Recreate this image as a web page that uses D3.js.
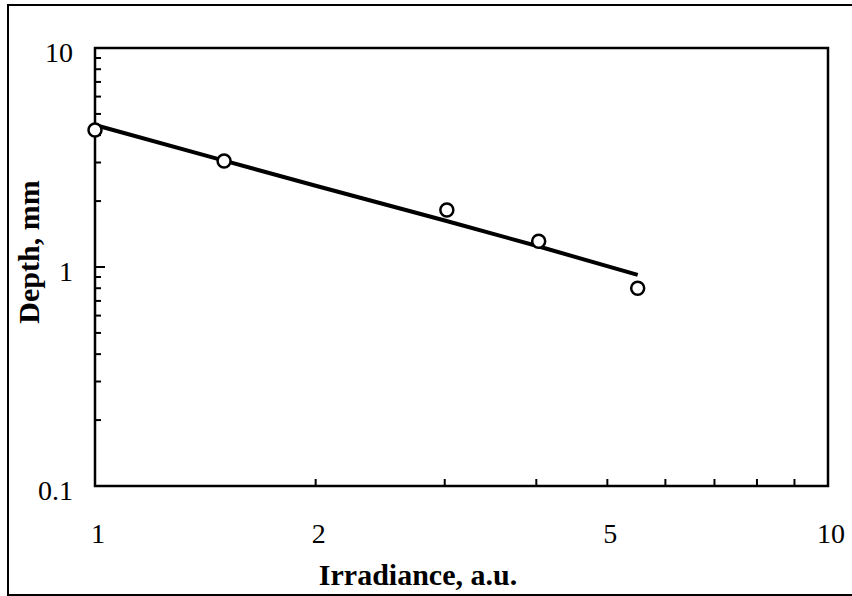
<!DOCTYPE html>
<html>
<head>
    <meta charset="utf-8">
    <title></title>
    <script src="https://d3js.org/d3.v7.min.js"></script>
    <style>
        * { margin: 0; padding: 0; }
        body { background: #fff; }
    </style>
</head>
<body>
    <div id="chart"></div>
    <script>
        // measured points (irradiance, depth)
        var irradiance = [1.0, 1.5, 3.02, 4.03, 5.5];
        var depth = [4.22, 3.05, 1.82, 1.31, 0.80];

        // fitted curve
        var fitX = [1.0, 1.5, 2.0, 3.0, 4.0, 5.5];
        var fitY = [4.45, 3.06, 2.35, 1.63, 1.25, 0.92];

        var xTickLabels = [1, 2, 5, 10];
        var yTickLabels = [0.1, 1, 10];

        var W = 852, H = 596;
        var margin = { top: 48, left: 95 },
            width = 828 - margin.left,
            height = 486 - margin.top;

        var svg = d3.select("#chart")
            .append("svg")
            .attr("width", W)
            .attr("height", H);

        // outer frame
        svg.append("rect")
            .attr("x", 8).attr("y", 5)
            .attr("width", 860).attr("height", 590)
            .attr("fill", "none")
            .attr("stroke", "#000")
            .attr("stroke-width", 2);

        var g = svg.append("g")
            .attr("transform", "translate(" + margin.left + "," + margin.top + ")");

        var x = d3.scaleLog().domain([1, 10]).range([0, width]);
        var y = d3.scaleLog().domain([0.1, 10]).range([height, 0]);

        // minor ticks: 2..9 in each decade
        var xTicks = [];
        for (var i = 2; i <= 9; i++) xTicks.push(i);
        var yTicks = [];
        [0.1, 1].forEach(function (d) {
            for (var k = 2; k <= 9; k++) yTicks.push(d * k);
        });

        g.append("g")
            .selectAll("line")
            .data(xTicks)
            .enter().append("line")
            .attr("x1", function (d) { return x(d); })
            .attr("x2", function (d) { return x(d); })
            .attr("y1", height)
            .attr("y2", height - 7)
            .attr("stroke", "#000")
            .attr("stroke-width", 2);

        g.append("g")
            .selectAll("line")
            .data(yTicks)
            .enter().append("line")
            .attr("x1", 0)
            .attr("x2", 6)
            .attr("y1", function (d) { return y(d); })
            .attr("y2", function (d) { return y(d); })
            .attr("stroke", "#000")
            .attr("stroke-width", 2);

        // major tick at 1 on y
        g.append("line")
            .attr("x1", 0).attr("x2", 10)
            .attr("y1", y(1)).attr("y2", y(1))
            .attr("stroke", "#000")
            .attr("stroke-width", 2);

        // plot box
        g.append("rect")
            .attr("x", 0).attr("y", 0)
            .attr("width", width).attr("height", height)
            .attr("fill", "none")
            .attr("stroke", "#000")
            .attr("stroke-width", 2.5);

        // tick labels
        g.append("g")
            .selectAll("text")
            .data(xTickLabels)
            .enter().append("text")
            .attr("x", function (d) { return x(d) + 3; })
            .attr("y", height + 57)
            .attr("text-anchor", "middle")
            .attr("font-family", "Liberation Serif")
            .attr("font-size", 28)
            .text(function (d) { return d; });

        g.append("g")
            .selectAll("text")
            .data(yTickLabels)
            .enter().append("text")
            .attr("x", -22)
            .attr("y", function (d) { return y(d) + 14; })
            .attr("text-anchor", "end")
            .attr("font-family", "Liberation Serif")
            .attr("font-size", 28)
            .text(function (d) { return d; });

        // fitted line
        var line = d3.line()
            .x(function (d) { return x(d[0]); })
            .y(function (d) { return y(d[1]); });

        g.append("path")
            .datum(d3.zip(fitX, fitY))
            .attr("d", line)
            .attr("fill", "none")
            .attr("stroke", "#000")
            .attr("stroke-width", 4);

        // points
        g.append("g")
            .selectAll("circle")
            .data(d3.zip(irradiance, depth))
            .enter().append("circle")
            .attr("cx", function (d) { return x(d[0]); })
            .attr("cy", function (d) { return y(d[1]); })
            .attr("r", 6.5)
            .attr("fill", "#fff")
            .attr("stroke", "#000")
            .attr("stroke-width", 2.5);

        // axis titles
        svg.append("text")
            .attr("x", 418)
            .attr("y", 585)
            .attr("text-anchor", "middle")
            .attr("font-family", "Liberation Serif")
            .attr("font-weight", "bold")
            .attr("font-size", 30)
            .text("Irradiance, a.u.");

        svg.append("text")
            .attr("transform", "translate(39,252) rotate(-90)")
            .attr("text-anchor", "middle")
            .attr("font-family", "Liberation Serif")
            .attr("font-weight", "bold")
            .attr("font-size", 30)
            .text("Depth, mm");
    </script>
</body>
</html>
